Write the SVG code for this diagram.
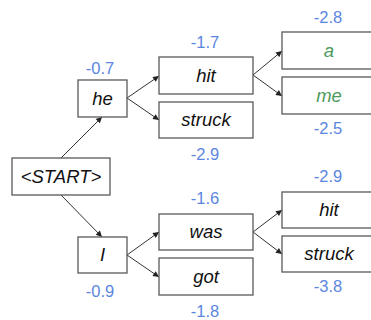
<svg xmlns="http://www.w3.org/2000/svg" width="371" height="320" viewBox="0 0 371 320">
<defs>
<marker id="ah" viewBox="0 0 10 10" refX="10" refY="5" markerWidth="7" markerHeight="6" markerUnits="userSpaceOnUse" orient="auto">
<path d="M0,0 L10,5 L0,10 z" fill="#222"/>
</marker>
</defs>
<style>
.box{fill:#fff;stroke:#595959;stroke-width:1.3}
.t{font-family:"Liberation Sans",Arial,sans-serif;font-style:italic;font-size:18.5px;fill:#111;text-anchor:middle}
.g{fill:#4e9a5c}
.n{font-family:"Liberation Sans",Arial,sans-serif;font-size:16.5px;fill:#5b86e0;text-anchor:middle}
.c{stroke:#333;stroke-width:1;fill:none;marker-end:url(#ah)}
</style>
<rect width="371" height="320" fill="#fff"/>
<g id="connectors">
<line class="c" x1="61" y1="158" x2="102" y2="117"/>
<line class="c" x1="61" y1="195" x2="102" y2="237"/>
<line class="c" x1="127" y1="98" x2="159" y2="76"/>
<line class="c" x1="127" y1="98" x2="159" y2="120"/>
<line class="c" x1="253" y1="75" x2="282" y2="51"/>
<line class="c" x1="253" y1="75" x2="282" y2="96"/>
<line class="c" x1="127" y1="255" x2="159" y2="232"/>
<line class="c" x1="127" y1="255" x2="159" y2="277"/>
<line class="c" x1="253" y1="232" x2="282" y2="210"/>
<line class="c" x1="253" y1="232" x2="282" y2="254"/>
</g>
<g id="start"><rect class="box" x="12" y="158" width="98" height="37"/><text class="t" x="61" y="183" font-size="17">&lt;START&gt;</text></g>
<g id="he"><rect class="box" x="78" y="80" width="49" height="37"/><text class="t" x="102.5" y="105">he</text><text class="n" x="100" y="74">-0.7</text></g>
<g id="I"><rect class="box" x="78" y="237" width="49" height="36"/><text class="t" x="102.5" y="261">I</text><text class="n" x="100" y="297">-0.9</text></g>
<g id="hit"><rect class="box" x="159" y="57" width="94" height="37"/><text class="t" x="206" y="82">hit</text><text class="n" x="205" y="48">-1.7</text></g>
<g id="struck"><rect class="box" x="159" y="102" width="94" height="36"/><text class="t" x="206" y="126">struck</text><text class="n" x="205" y="160">-2.9</text></g>
<g id="a"><rect class="box" x="282" y="32" width="94" height="37"/><text class="t g" x="329" y="57">a</text><text class="n" x="328" y="23">-2.8</text></g>
<g id="me"><rect class="box" x="282" y="77" width="94" height="37"/><text class="t g" x="329" y="102">me</text><text class="n" x="328" y="134">-2.5</text></g>
<g id="was"><rect class="box" x="159" y="214" width="94" height="36"/><text class="t" x="206" y="238">was</text><text class="n" x="205" y="204">-1.6</text></g>
<g id="got"><rect class="box" x="159" y="258" width="94" height="37"/><text class="t" x="206" y="283">got</text><text class="n" x="205" y="317">-1.8</text></g>
<g id="hit2"><rect class="box" x="282" y="192" width="94" height="36"/><text class="t" x="329" y="216">hit</text><text class="n" x="328" y="182">-2.9</text></g>
<g id="struck2"><rect class="box" x="282" y="236" width="94" height="36"/><text class="t" x="329" y="260">struck</text><text class="n" x="328" y="292">-3.8</text></g>
</svg>
